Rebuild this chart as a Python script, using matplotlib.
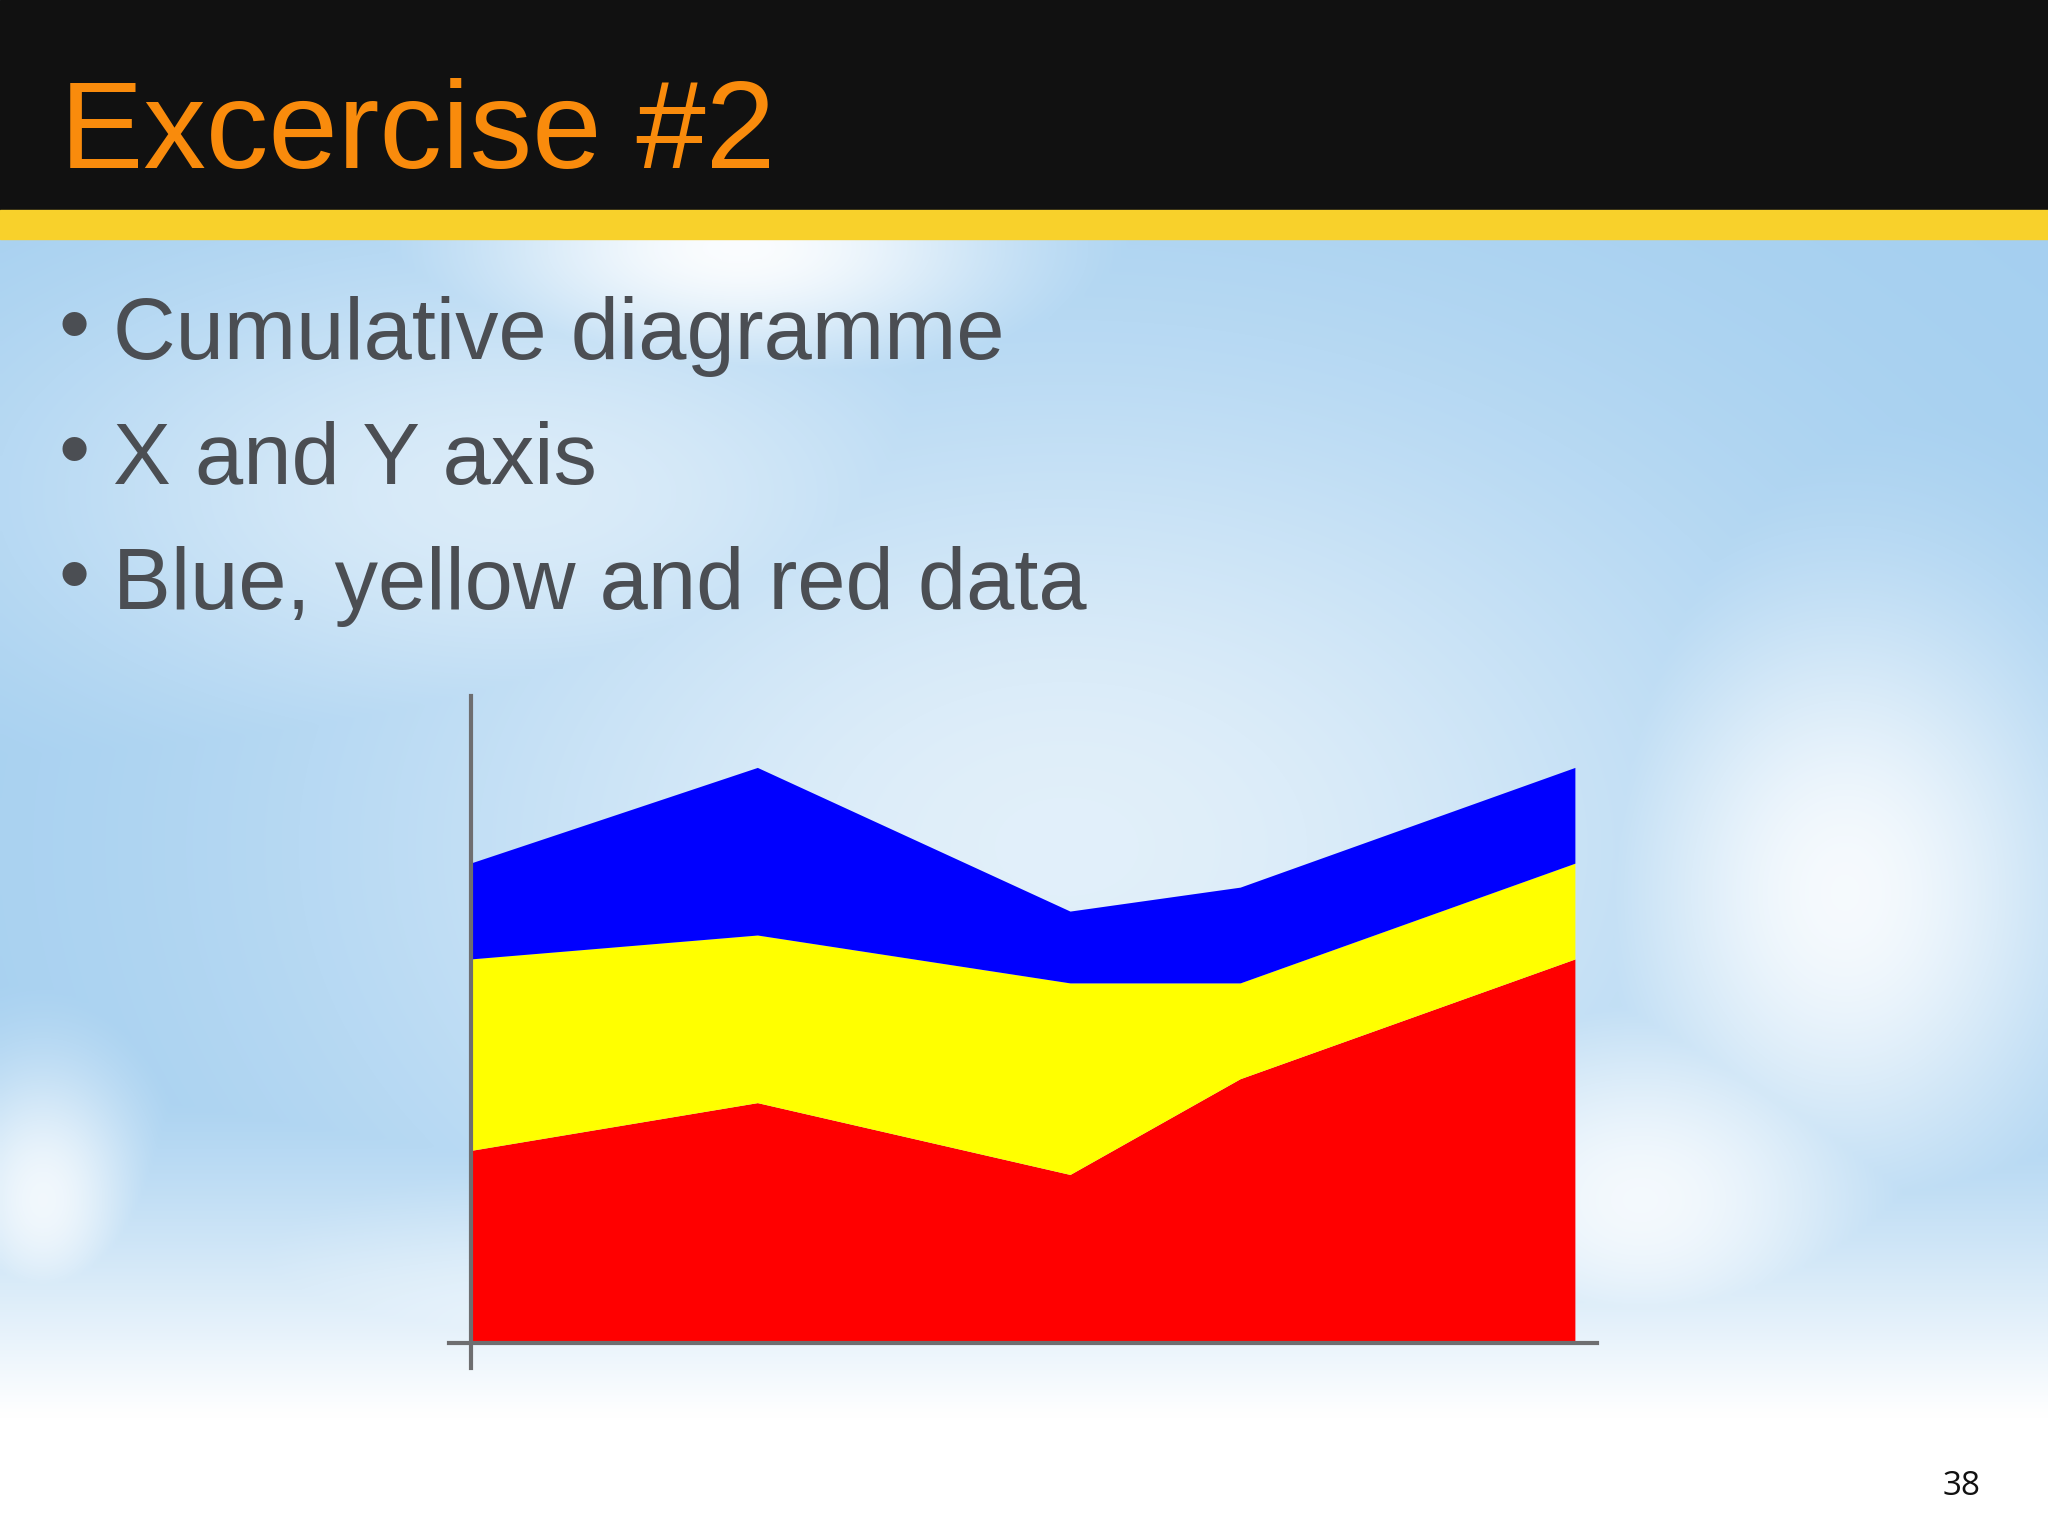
import numpy as np
import matplotlib
matplotlib.use("Agg")
import matplotlib.pyplot as plt
from matplotlib.patches import Rectangle

# data
x_pos = [0, 2.6, 5.43, 6.97, 10]
red_vals = [4, 5, 3.5, 5.5, 8]
yellow_vals = [4, 3.5, 4, 2, 2]
blue_vals = [2, 3.5, 1.5, 2, 2]
series_colors = ["#ff0000", "#ffff00", "#0000ff"]

title = "Excercise #2"
bullets = ["Cumulative diagramme", "X and Y axis", "Blue, yellow and red data"]
page_no = "38"

W, H = 2048, 1536


def sky(h=384, w=512):
    # soft sky background: blue base with white cloud blobs
    yy, xx = np.mgrid[0:h, 0:w]
    u = xx / w
    v = yy / h
    base = np.array([0.64, 0.81, 0.94])
    white = np.zeros((h, w))
    blobs = [(0.36, 0.16, 0.14, 0.08, 0.95),
             (0.25, 0.32, 0.25, 0.16, 0.6),
             (0.52, 0.55, 0.35, 0.32, 0.68),
             (0.90, 0.58, 0.12, 0.20, 0.9),
             (0.80, 0.78, 0.13, 0.13, 0.88),
             (0.02, 0.78, 0.05, 0.09, 0.85),
             (0.30, 0.86, 0.38, 0.10, 0.75)]
    for cx, cy, sx, sy, a in blobs:
        white = np.maximum(white, a * np.exp(-((u - cx) / sx) ** 2 - ((v - cy) / sy) ** 2))
    bottom = np.clip((v - 0.68) / 0.24, 0, 1) ** 1.2
    white = np.clip(np.maximum(white, bottom), 0, 1)
    img = base[None, None, :] * (1 - white[..., None]) + white[..., None]
    return img


fig = plt.figure(figsize=(W / 100, H / 100), dpi=100)
bg = fig.add_axes([0, 0, 1, 1])
bg.imshow(sky(), extent=[0, 1, 0, 1], aspect="auto", interpolation="bilinear", zorder=0)
bg.set_xlim(0, 1)
bg.set_ylim(0, 1)
bg.axis("off")

# header bar + yellow stripe
bg.add_patch(Rectangle((0, 1 - 210 / H), 1, 210 / H, color="#111111", zorder=1))
bg.add_patch(Rectangle((0, 1 - 239 / H), 1, 29 / H, color="#f8d12b", zorder=1))

fig.text(60 / W, 1 - 168 / H, title, fontsize=90, color="#f98b0c",
         family="Liberation Sans", va="baseline", ha="left")

for i, line in enumerate(bullets):
    yb = 1 - (359 + i * 125) / H
    fig.text(58 / W, yb + 6 / H, "\u2022", fontsize=64, color="#4b4e53",
             family="Liberation Sans", va="baseline", ha="left")
    fig.text(113 / W, yb, line, fontsize=62.5, color="#4b4e53",
             family="Liberation Sans", va="baseline", ha="left")

fig.text(1962 / W, 1 - 1495 / H, page_no, fontsize=24, color="#111111",
         family="Open Sans", va="baseline", ha="center")

# chart
ax = fig.add_axes([443 / W, 164.7 / H, 1160 / W, 680 / H])
ax.set_facecolor("none")
ax.stackplot(x_pos, red_vals, yellow_vals, blue_vals, colors=series_colors,
             linewidth=0, antialiased=True)
ax.set_xlim(-0.25, 10.25)
ax.set_ylim(-0.6, 13.6)
ax.set_xticks([])
ax.set_yticks([])
for s in ["top", "right"]:
    ax.spines[s].set_visible(False)
for s in ["left", "bottom"]:
    ax.spines[s].set_position(("data", 0))
    ax.spines[s].set_color("#6e6e70")
    ax.spines[s].set_linewidth(3)
ax.spines["left"].set_bounds(-0.53, 13.5)
ax.spines["bottom"].set_bounds(-0.2, 10.2)

fig.savefig("out.png", dpi=100)
plt.close()
